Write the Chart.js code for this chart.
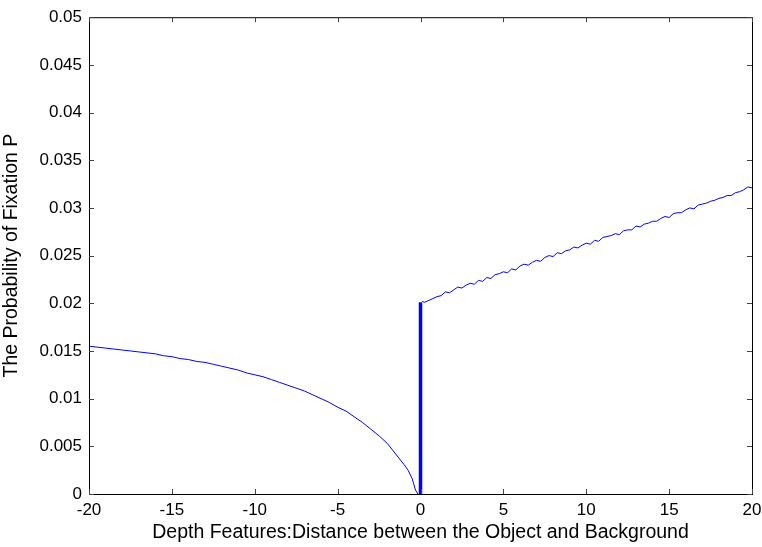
<!DOCTYPE html>
<html>
<head>
<meta charset="utf-8">
<script src="https://cdn.jsdelivr.net/npm/chart.js@4/dist/chart.umd.min.js"></script>
<style>
  html, body { margin: 0; padding: 0; background: #fff; }
  #wrap { width: 762px; height: 547px; }
</style>
</head>
<body>
<div id="wrap"><canvas id="chart" width="762" height="547"></canvas></div>
<script>
// left branch (object in front of background)
const leftX = [-20, -19.5, -19, -18.5, -18, -17.5, -17, -16.5, -16, -15.5, -15, -14.5, -14, -13.5, -13, -12.5,
  -12, -11.5, -11, -10.5, -10, -9.5, -9, -8.5, -8, -7.5, -7, -6.5, -6, -5.5, -5, -4.5, -4, -3.5, -3, -2.5,
  -2, -1.5, -1, -0.75, -0.5, -0.3, -0.15];
const leftY = [0.0155, 0.0154, 0.0153, 0.0152, 0.0151, 0.0150, 0.0149, 0.0148, 0.0147, 0.0145, 0.0144, 0.0142,
  0.0141, 0.0139, 0.0138, 0.0136, 0.0134, 0.0132, 0.0130, 0.0127, 0.0125, 0.0123, 0.0120, 0.0117, 0.0114,
  0.0111, 0.0108, 0.0104, 0.0100, 0.0096, 0.0091, 0.0087, 0.0081, 0.0075, 0.0068, 0.0061, 0.0053, 0.0042,
  0.0031, 0.0025, 0.0016, 0.0004, 0.0000];

// spike at zero
const spikeX = [0, 0];
const spikeY = [0, 0.0201];

// right branch
const rightX = [0.1, 0.25, 0.5, 0.75, 1, 1.25, 1.5, 1.75, 2, 2.25, 2.5, 2.75, 3, 3.25, 3.5, 3.75, 4, 4.25,
  4.5, 4.75, 5, 5.25, 5.5, 5.75, 6, 6.25, 6.5, 6.75, 7, 7.25, 7.5, 7.75, 8, 8.25, 8.5, 8.75, 9, 9.25, 9.5,
  9.75, 10, 10.25, 10.5, 10.75, 11, 11.25, 11.5, 11.75, 12, 12.25, 12.5, 12.75, 13, 13.25, 13.5, 13.75, 14,
  14.25, 14.5, 14.75, 15, 15.25, 15.5, 15.75, 16, 16.25, 16.5, 16.75, 17, 17.25, 17.5, 17.75, 18, 18.25,
  18.5, 18.75, 19, 19.25, 19.5, 19.75, 20];
const rightY = [0.0202, 0.0201, 0.0203, 0.0205, 0.0207, 0.0208, 0.0212, 0.0211, 0.0214, 0.0217, 0.0216,
  0.0219, 0.0221, 0.0220, 0.0224, 0.0223, 0.0227, 0.0226, 0.0230, 0.0231, 0.0233, 0.0232, 0.0236, 0.0235,
  0.0239, 0.0241, 0.0240, 0.0243, 0.0245, 0.0244, 0.0248, 0.0250, 0.0249, 0.0253, 0.0252, 0.0255, 0.0256,
  0.0259, 0.0258, 0.0261, 0.0263, 0.0262, 0.0266, 0.0265, 0.0269, 0.0270, 0.0271, 0.0273, 0.0272, 0.0276,
  0.0277, 0.0277, 0.0281, 0.0280, 0.0283, 0.0284, 0.0286, 0.0286, 0.0289, 0.0291, 0.0290, 0.0294, 0.0295,
  0.0295, 0.0298, 0.0300, 0.0299, 0.0303, 0.0304, 0.0305, 0.0307, 0.0308, 0.0310, 0.0311, 0.0313, 0.0313,
  0.0316, 0.0317, 0.0319, 0.0322, 0.0321];

const xTicks = [-20, -15, -10, -5, 0, 5, 10, 15, 20];
const yTicks = [0, 0.005, 0.01, 0.015, 0.02, 0.025, 0.03, 0.035, 0.04, 0.045, 0.05];

const toPts = (xs, ys) => xs.map((x, i) => ({ x: x, y: ys[i] }));

// matlab style box with inward ticks
const boxTicks = {
  id: "boxTicks",
  afterDraw(chart) {
    const ctx = chart.ctx;
    const a = chart.chartArea;
    const xs = chart.scales.x, ys = chart.scales.y;
    ctx.save();
    ctx.strokeStyle = "#000";
    ctx.lineWidth = 1;
    ctx.strokeRect(a.left + 0.5, a.top + 0.5, a.right - a.left, a.bottom - a.top);
    ctx.strokeStyle = "#444";
    ctx.beginPath();
    xTicks.forEach(v => {
      const px = Math.round(xs.getPixelForValue(v)) + 0.5;
      ctx.moveTo(px, a.bottom); ctx.lineTo(px, a.bottom - 5);
      ctx.moveTo(px, a.top); ctx.lineTo(px, a.top + 5);
    });
    yTicks.forEach(v => {
      const py = Math.round(ys.getPixelForValue(v)) + 0.5;
      ctx.moveTo(a.left, py); ctx.lineTo(a.left + 5, py);
      ctx.moveTo(a.right, py); ctx.lineTo(a.right - 5, py);
    });
    ctx.stroke();
    ctx.restore();
  }
};

const tickFont = { family: "'Liberation Sans', Arial, Helvetica, sans-serif", size: 17 };
const titleFont = { family: "'Liberation Sans', Arial, Helvetica, sans-serif", size: 19.5, lineHeight: 1 };

new Chart(document.getElementById("chart"), {
  type: "scatter",
  data: {
    datasets: [
      { data: toPts(leftX, leftY), showLine: true, borderColor: "#0000ff", borderWidth: 1, pointRadius: 0 },
      { data: toPts(spikeX, spikeY), showLine: true, borderColor: "#0000ff", borderWidth: 3.5, pointRadius: 0 },
      { data: toPts(rightX, rightY), showLine: true, borderColor: "#0000ff", borderWidth: 1, pointRadius: 0 }
    ]
  },
  options: {
    responsive: false,
    animation: false,
    layout: { padding: { top: 13, right: 0, left: 0, bottom: 0 } },
    plugins: { legend: { display: false }, tooltip: { enabled: false } },
    scales: {
      x: {
        type: "linear", min: -20, max: 20,
        afterBuildTicks: s => { s.ticks = xTicks.map(v => ({ value: v })); },
        afterFit: s => { s.height = 53; s.paddingRight = 10; },
        grid: { display: false, drawTicks: false },
        border: { display: false },
        ticks: { color: "#000", font: tickFont, padding: 6, maxRotation: 0, callback: v => String(v) },
        title: { display: true, text: "Depth Features:Distance between the Object and Background",
          color: "#000", font: titleFont, padding: { top: 4, bottom: 5 } }
      },
      y: {
        type: "linear", min: 0, max: 0.05,
        afterBuildTicks: s => { s.ticks = yTicks.map(v => ({ value: v })); },
        afterFit: s => { s.width = 89; },
        grid: { display: false, drawTicks: false },
        border: { display: false },
        ticks: { color: "#000", font: tickFont, padding: 7, callback: v => String(Number(v.toFixed(3))) },
        title: { display: true, text: "The Probability of Fixation P", color: "#000", font: titleFont,
          padding: { top: 2, bottom: 0 } }
      }
    }
  },
  plugins: [boxTicks]
});
</script>
</body>
</html>
